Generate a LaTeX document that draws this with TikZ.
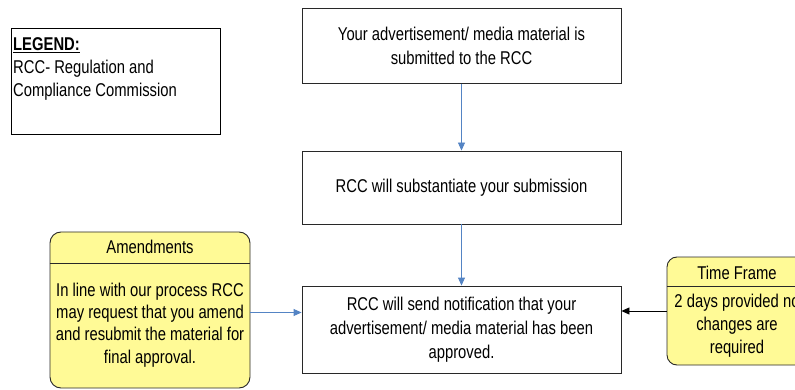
\documentclass[tikz,border=0pt]{standalone}
\usepackage{fontspec}
\setmainfont{Liberation Sans}[FakeStretch=0.8]
\usetikzlibrary{arrows.meta}
\definecolor{flowblue}{RGB}{84,132,196}
\definecolor{noteyellow}{RGB}{255,250,150}
\definecolor{edgegray}{RGB}{40,40,40}
\begin{document}
\begin{tikzpicture}[x=1pt,y=-1pt,
  txt/.style={font=\fontsize{18.5}{24}\selectfont, inner sep=0pt, align=center},
  stepbox/.style={draw=edgegray, line width=0.9pt, fill=white, minimum width=319pt, txt},
  notebox/.style={draw=edgegray, line width=0.9pt, fill=noteyellow, rounded corners=11pt},
  bluearrow/.style={draw=flowblue, line width=0.9pt, -{Triangle[width=7pt,length=8pt]}},
  blackarrow/.style={draw=black, line width=0.9pt, -{Triangle[width=7pt,length=8pt]}},
]
\useasboundingbox (0,0) rectangle (795,390);
\clip (0,0) rectangle (795,390);
\fill[white] (0,0) rectangle (795,390);

% legend
\node[draw=black, line width=0.9pt, minimum width=209pt, minimum height=106pt, inner sep=0pt] (legend) at (115.5,81) {};
\node[txt, anchor=base west] (legtitle) at (13,51) {\textbf{\underline{LEGEND:}}};
\node[txt, anchor=base west] (leg1) at (13,74) {RCC- Regulation and};
\node[txt, anchor=base west] (leg2) at (13,97) {Compliance Commission};

% main process steps
\node[stepbox, minimum height=75pt] (submit) at (461.5,46)
  {Your advertisement/ media material is\\submitted to the RCC};
\node[stepbox, minimum height=73pt] (check) at (461.5,187.5)
  {RCC will substantiate your submission};
\node[stepbox, minimum height=87pt] (notify) at (461.5,329.5)
  {RCC will send notification that your\\advertisement/ media material has been\\approved.};

% amendments note
\node[notebox, minimum width=200pt, minimum height=156pt] (amend) at (150,310) {};
\draw[edgegray, line width=0.9pt] (amend.west |- 0,263) -- (amend.east |- 0,263);
\node[txt] (amendtitle) at (150,247) {Amendments};
\node[txt, font=\fontsize{18.5}{22.4}\selectfont] (amendbody) at (150,325)
  {In line with our process RCC\\may request that you amend\\and resubmit the material for\\final approval.};

% time frame note
\node[notebox, rounded corners=10pt, minimum width=140pt, minimum height=108pt] (timef) at (737,311) {};
\draw[edgegray, line width=0.9pt] (timef.west |- 0,286) -- (timef.east |- 0,286);
\node[txt] (timetitle) at (737,273) {Time Frame};
\node[txt, font=\fontsize{18.5}{23}\selectfont] (timebody) at (737,326)
  {2 days provided no\\changes are\\required};

% connectors
\draw[bluearrow] (submit.south) -- (check.north);
\draw[bluearrow] (check.south) -- (notify.north);
\coordinate (amendout) at ([yshift=-2.5pt]amend.east);
\draw[bluearrow] (amendout) -- (amendout -| notify.west);
\draw[blackarrow] (timef.west) -- (timef.west -| notify.east);
\end{tikzpicture}
\end{document}
